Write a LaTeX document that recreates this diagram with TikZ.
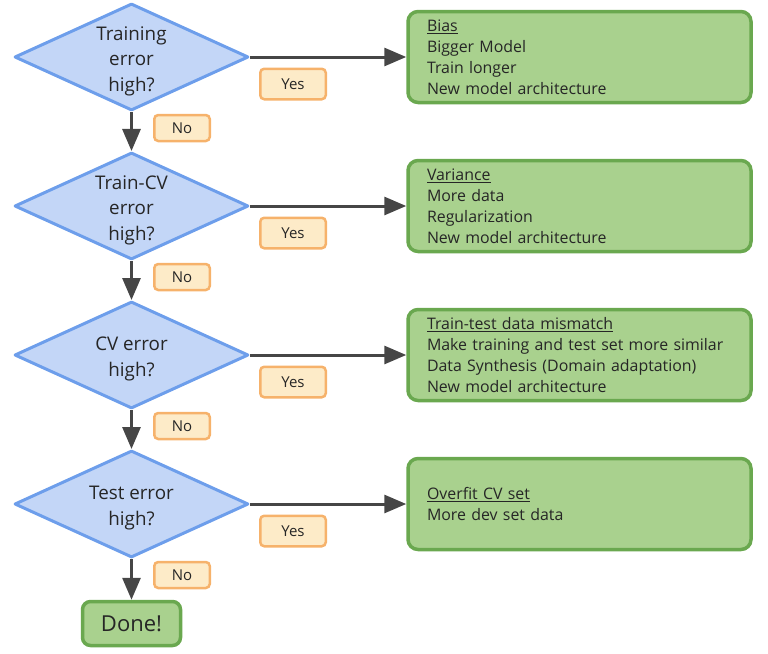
\documentclass[tikz,border=0pt]{standalone}
\usepackage{fontspec}
\setmainfont{Open Sans}
\usetikzlibrary{shapes.geometric,arrows.meta}
\definecolor{qfill}{HTML}{C3D6F7}
\definecolor{qline}{HTML}{6D9EEB}
\definecolor{fixfill}{HTML}{A9D18E}
\definecolor{fixline}{HTML}{6AA84F}
\definecolor{ansfill}{HTML}{FDEBC8}
\definecolor{ansline}{HTML}{F6B26B}
\definecolor{flowgray}{HTML}{464646}
\begin{document}
\begin{tikzpicture}[x=1pt,y=-1pt,
	qtext/.style={align=center, text=black!85, yshift=-4pt, font=\fontsize{18.8}{25.5}\selectfont},
	question/.style={diamond, draw=qline, fill=qfill, line width=3pt, line join=round,
		minimum width=234pt, minimum height=107pt, inner sep=0pt,
		label={[qtext]center:{#1}}},
	fix/.style={rectangle, rounded corners=10pt, draw=fixline, fill=fixfill, line width=3.5pt,
		text width=305pt, inner xsep=19pt, minimum height=91pt, align=left,
		text=black!85, font=\fontsize{15.9}{21}\selectfont},
	answer/.style={rectangle, rounded corners=4pt, draw=ansline, fill=ansfill, line width=2.5pt,
		inner sep=0pt, text=black!85, font=\fontsize{15}{18}\selectfont},
	flow/.style={draw=flowgray, line width=3pt, -{Triangle[length=22pt,width=18pt]}}]
	\useasboundingbox (0,0) rectangle (768,653);
	\foreach \n/\y/\q/\f in {
		1/57/{Training\\error\\high?}/{\underline{Bias}\\Bigger Model\\Train longer\\New model architecture},
		2/206/{Train-CV\\error\\high?}/{\underline{Variance}\\More data\\Regularization\\New model architecture},
		3/355/{CV error\\high?}/{\underline{Train-test data mismatch}\\Make training and test set more similar\\Data Synthesis (Domain adaptation)\\New model architecture},
		4/504/{Test error\\high?}/{\underline{Overfit CV set}\\More dev set data}}
	{
		\node[question={\q}] (q\n) at (131.5,\y) {};
		\node[fix] (fix\n) at (579.5,\y) {\f};
		\draw[flow] (q\n) -- (fix\n);
		\node[answer, minimum width=65.5pt, minimum height=30.5pt] (yes\n) at (293,\y+27) {Yes};
		\node[answer, minimum width=55.5pt, minimum height=26pt] (no\n) at (182,\y+71) {No};
	}
	\node[rectangle, rounded corners=8pt, draw=fixline, fill=fixfill, line width=3.5pt,
		minimum width=98pt, minimum height=44pt, text=black!85,
		font=\fontsize{22}{26}\selectfont] (done) at (131.5,623.5) {Done!};
	\foreach \a/\b in {1/2,2/3,3/4}
		\draw[flow] (q\a) -- (q\b);
	\draw[flow] (q4) -- (done);
\end{tikzpicture}
\end{document}
